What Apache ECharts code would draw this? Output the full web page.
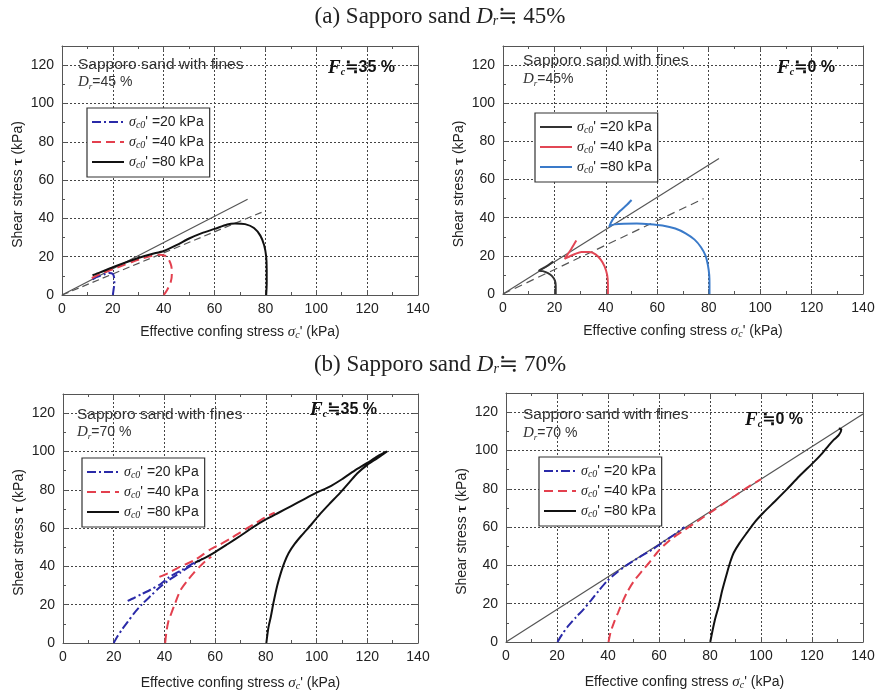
<!DOCTYPE html>
<html><head><meta charset="utf-8">
<script src="https://cdn.jsdelivr.net/npm/echarts@6/dist/echarts.min.js"></script>
<style>html,body{margin:0;padding:0;background:#fff}#c{width:880px;height:694px}</style>
</head><body><div id="c"></div>
<script>
// ---- tick labels ----
const xTicks = [0, 20, 40, 60, 80, 100, 120, 140];
const yTicks = [0, 20, 40, 60, 80, 100, 120];
const legendKeys = ['20', '40', '80'];

// ---- (a) Dr≒45%, Fc≒35% ----
const a35_20 = [[20,0],[20.3,3],[20.6,6],[20.5,9],[20,11],[18.5,11.5],[17,11],[15,10],[13,9],[12,8]];
const a35_40 = [[40,0],[41.5,3],[42.8,7],[43.2,11],[43,15],[42,18.5],[40.5,20.5],[38,21],[35,20.3],[32,19.2],[28,17.5],[24,15.5],[20,13.5],[15,11],[12,9],[10,8]];
const a35_80 = [[80.3,0],[80.5,6],[80.5,13],[80.3,20],[79.5,26],[78,31],[75.5,35],[72,37],[68,37.3],[65,36.8],[60,34.5],[55,32.3],[50,29.5],[45,26],[40,23],[35,21.3],[30,19.3],[25,17],[20,14.5],[15,11.8],[12,10.3]];
const a35_line = [[0,0],[73,50]];
const a35_dash = [[0,0],[80,44]];

// ---- (a) Dr≒45%, Fc≒0% ----
const a0_20 = [[20.5,0],[20.5,4],[20.2,7],[19,9.5],[17.5,11],[15.5,12],[14,12.3],[15.5,13.5],[17.5,15],[19.5,17]];
const a0_40 = [[40.8,0],[40.8,5],[40.5,10],[39.5,14.5],[38,18],[36,20.8],[33.5,22],[30.5,22],[28,21],[26,19.8],[24.5,18.8],[24,18.5],[25,20.5],[26.5,23.5],[28.5,28]];
const a0_80 = [[80.3,0],[80.3,5],[80.2,10],[79.7,15],[78.8,20],[77,24.5],[74.5,28.5],[71,31.8],[67,34.3],[62,35.9],[57,36.6],[52,36.9],[47,36.8],[43.5,36.5],[42,36],[41.3,35.2],[42,37.5],[43.5,40.5],[45.5,43.5],[48,46.5],[50,49.3]];
const a0_line = [[0,0],[84,71]];
const a0_dash = [[0,0],[78,50]];

// ---- (b) Dr≒70%, Fc≒35% ----
const b35_20a = [[20,0],[21.5,3.5],[23.5,7.5],[25.5,11],[28,15.5],[31,20],[34.5,24.5],[38.5,29.5],[42,33],[46,36.5],[50,40],[54,43]];
const b35_20b = [[25.5,22],[28,23.5],[31,25.5],[34.5,27.8],[38.5,30.8],[42,34.5],[47,38.2],[51.5,41.7],[55,44]];
const b35_40a = [[40.3,0],[40.8,6],[41.5,11],[42.3,14],[44,20],[46.3,27.5],[49,32.5],[51.5,36.5],[54,40],[56.8,43.5],[58.5,45]];
const b35_40b = [[38,34.5],[41.5,36.5],[45,39],[48.5,41.2],[51.5,43],[55,46],[58,48.8],[62,51.5],[66,54.5],[70,57.8],[75,61.8],[80,65.8],[83.5,68]];
const b35_80 = [[80.2,0],[81,8],[82,14],[83,21],[84.5,30],[86,37],[87.3,42],[89,47],[91.5,52],[94,56],[98,62],[101.5,67.5],[105,72.5],[109,78],[113,84],[116,88.5],[120,93],[124,96.5],[127.8,100],
  [124,97.5],[120,94],[115,90],[110,85.5],[105,81.5],[100,78.5],[95,75],[90,71.5],[85,68],[80,64.5],[75,60.5],[70,56],[65,51.7],[60,47.5],[56,44.5],[52,42]];

// ---- (b) Dr≒70%, Fc≒0% ----
const b0_20 = [[20.2,0],[22,4],[24.5,8.5],[27.5,13],[30.4,17],[33.5,22],[36.5,27],[39.6,31.8],[43,35.8],[46.8,39.6],[52,44],[57.9,48.7],[62,52.5],[67,57],[70,60]];
const b0_40 = [[40.2,0],[41,5],[42.3,10],[44,15.5],[45.5,20.4],[47.5,26],[50,31.5],[53.3,37],[56.5,42],[59.2,46.6],[62,50.5],[65,54],[70,58.5],[75,63],[80,67.5],[85,72],[90,76.5],[95,81],[100,85]];
const b0_80 = [[80.1,0],[81,6],[82,12],[83.4,18.7],[84.8,27],[86.7,36.2],[88,42],[89.3,46.6],[91.5,51.5],[94.5,57.1],[97.5,62.5],[101,67.6],[105.5,73.5],[110.2,79.8],[115,86.5],[120.6,93.8],[124,98.5],[126.5,102.5],[128.5,105.5],[130.5,108],[131.5,111],[130.5,111.5]];
const b0_line = [[0,0],[140,119]];

// ---- styles ----
const SANS = "'Liberation Sans', Arial, 'DejaVu Sans', sans-serif";
const SERIF = "'Liberation Serif', 'Times New Roman', 'DejaVu Serif', serif";
const DASHDOT = [9, 3, 2, 3];
const DASH = [9, 5];
const C = {blue:'#2a2aa8', red:'#e3404e', black:'#111', tBlack:'#333', tRed:'#e24755', tBlue:'#3a7ac9'};

const panels = [
  {id:'TL', grid:{left:62, top:46, width:356, height:249}, nameGap:30,
   legend:{left:87, top:108},
   curves:[{k:'20', d:a35_20, c:C.blue, t:DASHDOT},{k:'40', d:a35_40, c:C.red, t:DASH},{k:'80', d:a35_80, c:C.black, t:'solid'}],
   refs:[{d:a35_line, t:'solid'},{d:a35_dash, t:[7,4]}]},
  {id:'TR', grid:{left:503, top:46, width:360, height:248}, nameGap:30,
   legend:{left:535, top:113},
   curves:[{k:'20', d:a0_20, c:C.tBlack, t:'solid'},{k:'40', d:a0_40, c:C.tRed, t:'solid'},{k:'80', d:a0_80, c:C.tBlue, t:'solid'}],
   refs:[{d:a0_line, t:'solid'},{d:a0_dash, t:[8,5]}]},
  {id:'BL', grid:{left:63, top:394, width:355, height:249}, nameGap:33,
   legend:{left:82, top:458},
   curves:[{k:'20', d:b35_20a, c:C.blue, t:DASHDOT},{k:'20', d:b35_20b, c:C.blue, t:DASHDOT},
           {k:'40', d:b35_40a, c:C.red, t:DASH},{k:'40', d:b35_40b, c:C.red, t:DASH},
           {k:'80', d:b35_80, c:C.black, t:'solid'}],
   refs:[]},
  {id:'BR', grid:{left:506, top:393, width:357, height:249}, nameGap:33,
   legend:{left:539, top:457},
   curves:[{k:'20', d:b0_20, c:C.blue, t:DASHDOT},{k:'40', d:b0_40, c:C.red, t:DASH},{k:'80', d:b0_80, c:C.black, t:'solid'}],
   refs:[{d:b0_line, t:'solid'}]}
];

const grids = [], xAxes = [], yAxes = [], series = [], legends = [];
const axisLineStyle = {color:'#555', width:1};
const xNameRich = {
  t:{fontFamily:SANS, fontSize:14, color:'#222'},
  i:{fontFamily:SERIF, fontStyle:'italic', fontSize:15, color:'#222'},
  sub:{fontFamily:SERIF, fontStyle:'italic', fontSize:10, color:'#222', verticalAlign:'bottom', lineHeight:12}
};

panels.forEach((p, gi) => {
  grids.push(Object.assign({containLabel:false}, p.grid));
  const xi = xAxes.length, yi = yAxes.length;
  xAxes.push({
    gridIndex:gi, type:'value', min:xTicks[0], max:xTicks[xTicks.length-1], interval:20,
    axisLine:{show:true, onZero:false, lineStyle:axisLineStyle},
    axisTick:{show:true, inside:true, length:5, lineStyle:axisLineStyle},
    minorTick:{show:true, splitNumber:2, length:3, lineStyle:axisLineStyle},
    axisLabel:{color:'#222', fontSize:14, fontFamily:SANS, margin:7,
      formatter:v => xTicks.includes(v) ? String(v) : ''},
    splitLine:{show:true, lineStyle:{type:[2,2], color:'#444', width:1}},
    name:"{t|Effective confing stress }{i|σ}{sub|c}{t|' (kPa)}",
    nameLocation:'middle', nameGap:p.nameGap,
    nameTextStyle:{rich:xNameRich, fontSize:14}
  });
  xAxes.push({
    gridIndex:gi, type:'value', position:'top', min:xTicks[0], max:xTicks[xTicks.length-1], interval:20,
    axisLine:{show:true, onZero:false, lineStyle:axisLineStyle},
    axisTick:{show:true, inside:true, length:5, lineStyle:axisLineStyle},
    minorTick:{show:true, splitNumber:2, length:3, lineStyle:axisLineStyle},
    axisLabel:{show:false}, splitLine:{show:false}
  });
  yAxes.push({
    gridIndex:gi, type:'value', min:0, max:130, interval:20,
    axisLine:{show:true, onZero:false, lineStyle:axisLineStyle},
    axisTick:{show:true, inside:true, length:5, lineStyle:axisLineStyle},
    minorTick:{show:true, splitNumber:2, length:3, lineStyle:axisLineStyle},
    axisLabel:{color:'#222', fontSize:14, fontFamily:SANS, margin:8,
      formatter:v => yTicks.includes(v) ? String(v) : ''},
    splitLine:{show:true, lineStyle:{type:[2,2], color:'#444', width:1}},
    name:'{t|Shear stress }{b|τ}{t| (kPa)}', nameLocation:'middle', nameGap:36, nameRotate:90,
    nameTextStyle:{padding:[0,0,0,-28], rich:{t:{fontFamily:SANS, fontSize:14, color:'#222'}, b:{fontFamily:SERIF, fontSize:15, fontWeight:'bold', color:'#222'}}}
  });
  yAxes.push({
    gridIndex:gi, type:'value', position:'right', min:0, max:130, interval:20,
    axisLine:{show:true, onZero:false, lineStyle:axisLineStyle},
    axisTick:{show:true, inside:true, length:5, lineStyle:axisLineStyle},
    minorTick:{show:true, splitNumber:2, length:3, lineStyle:axisLineStyle},
    axisLabel:{show:false}, splitLine:{show:false}
  });
  p.refs.forEach(r => series.push({
    type:'line', xAxisIndex:xi, yAxisIndex:yi, data:r.d, symbol:'none', silent:true,
    lineStyle:{color:'#555', width:1.2, type:r.t}, z:2
  }));
  p.curves.forEach(c => series.push({
    name:p.id + c.k, type:'line', xAxisIndex:xi, yAxisIndex:yi, data:c.d, symbol:'none',
    smooth:0.25, lineStyle:{color:c.c, width:2, type:c.t}, itemStyle:{color:c.c}, z:3
  }));
  legends.push({
    left:p.legend.left, top:p.legend.top, orient:'vertical',
    data:legendKeys.map(k => p.id + k),
    itemWidth:32, itemHeight:12, itemGap:5, padding:[7,6,7,4],
    backgroundColor:'#fff', borderColor:'#333', borderWidth:1.2, borderRadius:0,
    selectedMode:false,
    itemStyle:{opacity:0},
    formatter:name => "{s|σ}{sub|c0}{t|' =" + name.slice(2) + " kPa}",
    textStyle:{rich:{
      s:{fontFamily:SERIF, fontStyle:'italic', fontSize:14, color:'#222', lineHeight:16},
      sub:{fontFamily:SERIF, fontStyle:'italic', fontSize:10, color:'#222', verticalAlign:'bottom', lineHeight:11},
      t:{fontFamily:SANS, fontSize:14, color:'#222', lineHeight:16}
    }}
  });
});

// ---- texts ----
const headRich = {
  t:{fontFamily:SERIF, fontSize:23, fontWeight:'normal', color:'#222'},
  i:{fontFamily:SERIF, fontStyle:'italic', fontWeight:'normal', fontSize:23, color:'#222'},
  sub:{fontFamily:SERIF, fontStyle:'italic', fontWeight:'normal', fontSize:14, color:'#222', verticalAlign:'bottom', lineHeight:20}
};
const noteRich = {
  t:{fontFamily:SANS, fontSize:15.5, fontWeight:'normal', color:'#333', lineHeight:17},
  i:{fontFamily:SERIF, fontStyle:'italic', fontWeight:'normal', fontSize:15, color:'#333', lineHeight:17},
  sub:{fontFamily:SERIF, fontStyle:'italic', fontWeight:'normal', fontSize:9, color:'#333', verticalAlign:'bottom', lineHeight:11}
};
const noteRich2 = {
  t:{fontFamily:SANS, fontSize:14, fontWeight:'normal', color:'#333', lineHeight:17},
  i:{fontFamily:SERIF, fontStyle:'italic', fontWeight:'normal', fontSize:15, color:'#333', lineHeight:17},
  sub:{fontFamily:SERIF, fontStyle:'italic', fontWeight:'normal', fontSize:9, color:'#333', verticalAlign:'bottom', lineHeight:11}
};
const fcRich = {
  f:{fontFamily:SERIF, fontStyle:'italic', fontWeight:'bold', fontSize:19, color:'#111', lineHeight:18},
  sub:{fontFamily:SERIF, fontStyle:'italic', fontWeight:'bold', fontSize:10, color:'#111', verticalAlign:'bottom', lineHeight:11},
  b:{fontFamily:SANS, fontWeight:'bold', fontSize:16, color:'#111', lineHeight:18}
};
function note(text, left, top, rich) {
  return {text:text, left:left, top:top, padding:0, textStyle:{fontWeight:'normal', rich:rich}};
}
const titles = [
  {text:'{t|(a) Sapporo sand }{i|D}{sub|r}{t|≒ 45%}', left:'center', top:5, padding:0, textStyle:{fontWeight:'normal', rich:headRich}},
  {text:'{t|(b) Sapporo sand }{i|D}{sub|r}{t|≒ 70%}', left:'center', top:353, padding:0, textStyle:{fontWeight:'normal', rich:headRich}},
  note('{t|Sapporo sand with fines}', 78, 56, noteRich),
  note('{i|D}{sub|r}{t|=45 %}', 78, 74, noteRich2),
  note('{f|F}{sub|c}{b|≒35 %}', 328, 59, fcRich),
  note('{t|Sapporo sand with fines}', 523, 52, noteRich),
  note('{i|D}{sub|r}{t|=45%}', 523, 71, noteRich2),
  note('{f|F}{sub|c}{b|≒0 %}', 777, 59, fcRich),
  note('{t|Sapporo sand with fines}', 77, 406, noteRich),
  note('{i|D}{sub|r}{t|=70 %}', 77, 424, noteRich2),
  note('{f|F}{sub|c}{b|≒35 %}', 310, 401, fcRich),
  note('{t|Sapporo sand with fines}', 523, 406, noteRich),
  note('{i|D}{sub|r}{t|=70 %}', 523, 425, noteRich2),
  note('{f|F}{sub|c}{b|≒0 %}', 745, 411, fcRich)
];

const chart = echarts.init(document.getElementById('c'), null, {renderer:'canvas'});
chart.setOption({
  animation:false,
  backgroundColor:'#fff',
  title:titles,
  grid:grids, xAxis:xAxes, yAxis:yAxes, series:series, legend:legends
});
</script></body></html>
